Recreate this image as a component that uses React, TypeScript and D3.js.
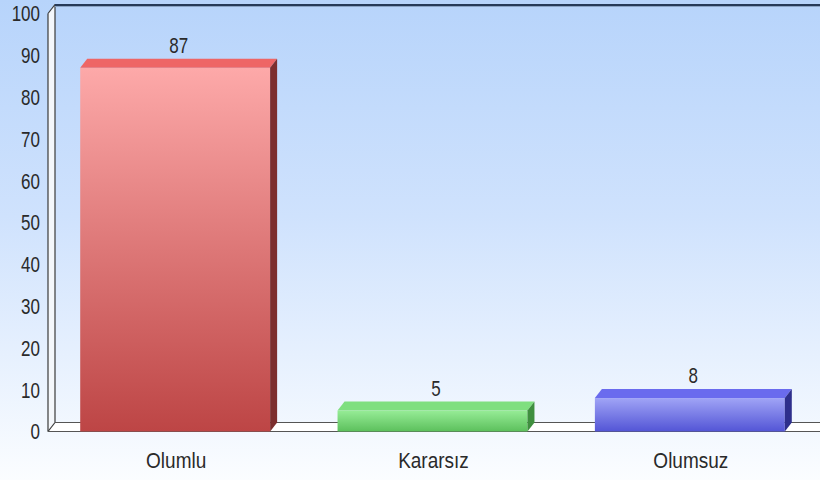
import React from "react";
import * as d3 from "d3";

const categories = ["Olumlu", "Kararsız", "Olumsuz"];
const values = [87, 5, 8];
const yTicks = [0, 10, 20, 30, 40, 50, 60, 70, 80, 90, 100];

// front / top / side shades per bar
const fronts = [
  ["#fda9a9", "#bd4545"],
  ["#96ec96", "#5cc05c"],
  ["#a0a4f6", "#5355d6"],
];
const tops = ["#ee6666", "#7fdf7f", "#6a6bee"];
const sides = ["#7c2e2e", "#3f8f3f", "#2e2f8c"];

const W = 820;
const H = 480;
const dx = 7;
const dy = -9;
const font = "'Liberation Sans Narrow', 'Liberation Sans', Arial, sans-serif";

export default function App() {
  const y = d3.scaleLinear().domain([0, 100]).range([431.5, 13.5]);
  const x = d3.scaleBand().domain(categories).range([48, 820]).padding(0);
  const bw = x.bandwidth() * 0.738;

  const left = 48;
  const floorY = y(0);
  const topY = y(100);

  return (
    <div style={{ position: "fixed", left: 0, top: 0 }}>
      <svg width={W} height={H} style={{ display: "block" }}>
        <defs>
          <linearGradient id="bg" x1="0" y1="0" x2="0" y2="1">
            <stop offset="0" stopColor="#b7d4fb" />
            <stop offset="0.45" stopColor="#cfe2fd" />
            <stop offset="1" stopColor="#fbfdff" />
          </linearGradient>
          {fronts.map((f, i) => (
            <linearGradient key={i} id={"fr" + i} x1="0" y1="0" x2="0" y2="1">
              <stop offset="0" stopColor={f[0]} />
              <stop offset="1" stopColor={f[1]} />
            </linearGradient>
          ))}
        </defs>
        <rect x={0} y={0} width={W} height={H} fill="url(#bg)" />

        {/* left wall and floor */}
        <path
          d={`M${left},${topY} L${left + dx},${topY + dy} L${left + dx},${floorY + dy} L${left},${floorY} Z`}
          fill="#f4f7fb"
        />
        <path
          d={`M${left},${floorY} L${left + dx},${floorY + dy} L${W},${floorY + dy} L${W},${floorY} Z`}
          fill="#ffffff"
        />
        <line x1={left + dx} y1={topY + dy} x2={left + dx} y2={floorY + dy} stroke="#3a3a3a" strokeWidth={1.2} />
        <line x1={left} y1={topY} x2={left} y2={floorY} stroke="#3a3a3a" strokeWidth={1.2} />
        <line x1={left} y1={topY} x2={left + dx} y2={topY + dy} stroke="#3a3a3a" strokeWidth={1.2} />
        <line x1={left} y1={floorY} x2={left + dx} y2={floorY + dy} stroke="#3a3a3a" strokeWidth={1.2} />
        <line x1={left + dx} y1={floorY + dy} x2={W} y2={floorY + dy} stroke="#555" strokeWidth={1.2} />
        <line x1={left} y1={floorY} x2={W} y2={floorY} stroke="#555" strokeWidth={1.2} />
        <line x1={left + dx} y1={topY + dy + 0.5} x2={W} y2={topY + dy + 0.5} stroke="#263a58" strokeWidth={2.2} />
        <line x1={left + dx} y1={topY + dy + 2} x2={W} y2={topY + dy + 2} stroke="#8aa3c4" strokeWidth={1} />

        {/* y ticks */}
        {yTicks.map((t) => (
          <text
            key={t}
            transform={`translate(40,${y(t)}) scale(1,1.3)`}
            textAnchor="end"
            dominantBaseline="central"
            fontFamily={font}
            fontSize={17}
            fill="#2a2a2a"
          >
            {t}
          </text>
        ))}

        {/* bars */}
        {categories.map((c, i) => {
          const cx = (x(c) as number) + x.bandwidth() / 2 - 1.5;
          const x0 = cx - bw / 2;
          const x1 = cx + bw / 2;
          const yt = y(values[i]);
          return (
            <g key={c}>
              <rect x={x0} y={yt} width={bw} height={floorY - yt} fill={`url(#fr${i})`} />
              <path
                d={`M${x0},${yt} L${x0 + dx},${yt + dy} L${x1 + dx},${yt + dy} L${x1},${yt} Z`}
                fill={tops[i]}
              />
              <path
                d={`M${x1},${yt} L${x1 + dx},${yt + dy} L${x1 + dx},${floorY + dy} L${x1},${floorY} Z`}
                fill={sides[i]}
              />
              <text
                transform={`translate(${cx + dx / 2},${yt + dy - 6}) scale(1,1.3)`}
                textAnchor="middle"
                fontFamily={font}
                fontSize={17}
                fill="#2a2a2a"
              >
                {values[i]}
              </text>
              <text
                transform={`translate(${cx + 1},${468}) scale(1,1.15)`}
                textAnchor="middle"
                fontFamily={font}
                fontSize={19}
                fill="#2a2a2a"
              >
                {c}
              </text>
            </g>
          );
        })}
      </svg>
    </div>
  );
}
